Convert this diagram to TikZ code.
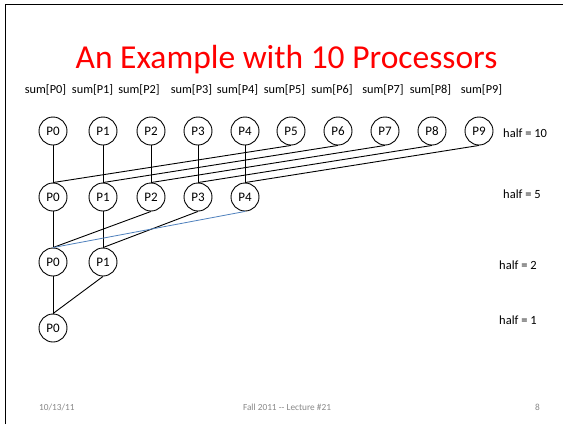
\documentclass[tikz,border=0pt]{standalone}
\usepackage{fontspec}
\setmainfont{Carlito}
\definecolor{titlered}{RGB}{255,0,0}
\definecolor{footgray}{RGB}{137,137,137}
\definecolor{linkblue}{RGB}{79,129,189}
\begin{document}
\begin{tikzpicture}[x=1pt,y=-1pt,
  proc/.style={circle,draw,line width=0.9pt,minimum size=28pt,inner sep=0pt,font=\fontsize{13}{14}\selectfont},
  link/.style={line width=0.9pt},
  bluelink/.style={line width=0.8pt,draw=linkblue},
  sumlbl/.style={anchor=base,inner sep=0pt,font=\fontsize{12.3}{14}\selectfont},
  halflbl/.style={anchor=base west,inner sep=0pt,font=\fontsize{12.5}{14}\selectfont},
  foot/.style={inner sep=0pt,text=footgray,font=\fontsize{9.3}{11}\selectfont}]
\useasboundingbox (0,0) rectangle (563,424);
\fill[white] (0,0) rectangle (563,424);
\draw[line width=1.6pt] (5.5,424) -- (5.5,4.5) -- (563,4.5);
% title
\node[anchor=base,inner sep=0pt,text=titlered,font=\fontsize{33.5}{38}\selectfont] (title) at (286.5,68) {An Example with 10 Processors};
% sum labels
\foreach \i/\x in {0/45.5,1/92.6,2/139,3/191.5,4/237.5,5/284.5,6/332,7/383,8/430.5,9/481.5}
  \node[sumlbl] (s\i) at (\x,93.5) {sum[P\i]};
% row 1
\foreach \i/\x in {0/53,1/103,2/151,3/198,4/245,5/291,6/338,7/385,8/432,9/479}
  \node[proc] (a\i) at (\x,131) {P\i};
% row 2
\foreach \i/\x in {0/53,1/103,2/151,3/198,4/245}
  \node[proc] (b\i) at (\x,197) {P\i};
% row 3
\node[proc] (c0) at (53,262) {P0};
\node[proc] (c1) at (103,262) {P1};
% row 4
\node[proc] (d0) at (53,328) {P0};
% half labels
\node[halflbl] (h10) at (503,137) {half = 10};
\node[halflbl] (h5) at (503,198) {half = 5};
\node[halflbl] (h2) at (499,269) {half = 2};
\node[halflbl] (h1) at (499,324) {half = 1};
% connectors row1 -> row2
\foreach \i in {0,...,4} \draw[link] (a\i.south) -- (b\i.north);
\draw[link] (a5.south) -- (b0.north);
\draw[link] (a6.south) -- (b1.north);
\draw[link] (a7.south) -- (b2.north);
\draw[link] (a8.south) -- (b3.north);
\draw[link] (a9.south) -- (b4.north);
% row2 -> row3
\draw[link] (b0.south) -- (c0.north);
\draw[link] (b1.south) -- (c1.north);
\draw[link] (b2.south) -- (c0.north);
\draw[link] (b3.south) -- (c1.north);
\draw[bluelink] (b4.south) -- (c0.north);
% row3 -> row4
\draw[link] (c0.south) -- (d0.north);
\draw[link] (c1.south) -- (d0.north);
% footer
\node[foot,anchor=base west] (date) at (39,410) {10/13/11};
\node[foot,anchor=base] (lect) at (287,410) {Fall 2011 {-}{-} Lecture \#21};
\node[foot,anchor=base east] (page) at (540,410) {8};
\end{tikzpicture}
\end{document}
